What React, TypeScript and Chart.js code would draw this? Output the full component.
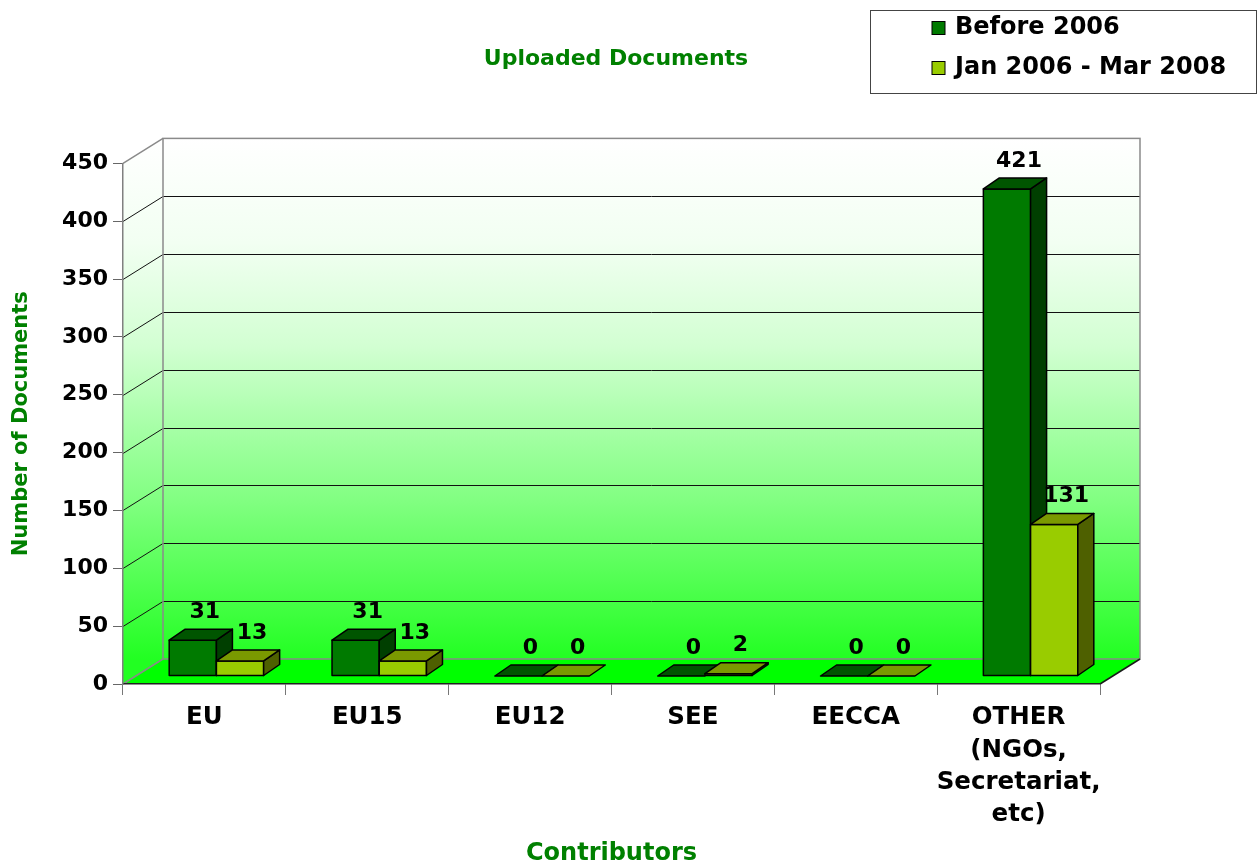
import React, { useEffect, useRef } from "react";
import { Chart, registerables } from "chart.js";

Chart.register(...registerables);

// ---------- data ----------
const categories: (string | string[])[] = [
  "EU",
  "EU15",
  "EU12",
  "SEE",
  "EECCA",
  ["OTHER", "(NGOs,", "Secretariat,", "etc)"],
];
const seriesNames = ["Before 2006", "Jan 2006 - Mar 2008"];
const before2006 = [31, 31, 0, 0, 0, 421];
const jan2006Mar2008 = [13, 13, 0, 2, 0, 131];
const yMin = 0;
const yMax = 450;
const yStep = 50;
const chartTitle = "Uploaded Documents";
const yTitle = "Number of Documents";
const xTitle = "Contributors";

// ---------- styles ----------
const FONT = "'DejaVu Sans', 'Liberation Sans', sans-serif";
const TITLE_GREEN = "#008000";
const WALL_DX = 40;
const WALL_DY = -25;
const SHIFT_X = 12;
const SHIFT_Y = -8;
const DEPTH_X = 16;
const DEPTH_Y = -11;
const faceColors = [
  { front: "#007a00", top: "#005500", side: "#003f00" },
  { front: "#99cc00", top: "#7a9900", side: "#4e6000" },
];

function poly(ctx: CanvasRenderingContext2D, pts: number[][]) {
  ctx.beginPath();
  ctx.moveTo(pts[0][0], pts[0][1]);
  for (let i = 1; i < pts.length; i++) ctx.lineTo(pts[i][0], pts[i][1]);
  ctx.closePath();
}

const wallPlugin = {
  id: "walls3d",
  beforeDraw(chart: any) {
    const { ctx, chartArea } = chart;
    const { left, right, top, bottom } = chartArea;
    const y = chart.scales.y;
    ctx.save();
    const g = ctx.createLinearGradient(0, top + WALL_DY, 0, bottom + WALL_DY);
    g.addColorStop(0, "#ffffff");
    g.addColorStop(0.2, "#f2fff2");
    g.addColorStop(0.4, "#d2ffd2");
    g.addColorStop(0.55, "#a8ffa8");
    g.addColorStop(0.7, "#80ff80");
    g.addColorStop(0.85, "#52ff52");
    g.addColorStop(1, "#22ff22");
    ctx.fillStyle = g;
    poly(ctx, [
      [left, top],
      [left + WALL_DX, top + WALL_DY],
      [left + WALL_DX, bottom + WALL_DY],
      [left, bottom],
    ]);
    ctx.fill();
    ctx.fillRect(left + WALL_DX, top + WALL_DY, right - left, bottom - top);
    ctx.fillStyle = "#00ff00";
    poly(ctx, [
      [left, bottom],
      [right, bottom],
      [right + WALL_DX, bottom + WALL_DY],
      [left + WALL_DX, bottom + WALL_DY],
    ]);
    ctx.fill();

    ctx.lineWidth = 1;
    ctx.strokeStyle = "#111111";
    y.ticks.forEach((t: any) => {
      if (t.value === yMin || t.value === yMax) return;
      const py = Math.round(y.getPixelForValue(t.value)) + 0.5;
      ctx.beginPath();
      ctx.moveTo(left + WALL_DX, py + WALL_DY);
      ctx.lineTo(right + WALL_DX, py + WALL_DY);
      ctx.moveTo(left, py);
      ctx.lineTo(left + WALL_DX, py + WALL_DY);
      ctx.stroke();
    });

    ctx.strokeStyle = "#8a8a8a";
    ctx.lineWidth = 1.5;
    ctx.strokeRect(left + WALL_DX, top + WALL_DY, right - left, bottom - top);
    ctx.beginPath();
    ctx.moveTo(left, top);
    ctx.lineTo(left + WALL_DX, top + WALL_DY);
    ctx.moveTo(left, bottom);
    ctx.lineTo(left + WALL_DX, bottom + WALL_DY);
    ctx.stroke();
    ctx.strokeStyle = "#1a1a1a";
    ctx.beginPath();
    ctx.moveTo(right, bottom);
    ctx.lineTo(right + WALL_DX, bottom + WALL_DY);
    ctx.stroke();
    ctx.restore();
  },
};

const bars3dPlugin = {
  id: "bars3d",
  beforeDatasetsDraw(chart: any) {
    const { ctx } = chart;
    ctx.save();
    ctx.lineWidth = 1.5;
    ctx.lineJoin = "round";
    ctx.strokeStyle = "#000000";
    const labelsToDraw: any[] = [];
    chart.data.datasets.forEach((ds: any, di: number) => {
      const meta = chart.getDatasetMeta(di);
      const c = faceColors[di];
      meta.data.forEach((el: any, i: number) => {
        const p = el.getProps(["x", "y", "base", "width"], true);
        const l = p.x - p.width / 2 + SHIFT_X;
        const r = p.x + p.width / 2 + SHIFT_X;
        const t = Math.min(p.y, p.base) + SHIFT_Y;
        const b = Math.max(p.y, p.base) + SHIFT_Y;
        if (b - t > 0.1) {
          ctx.fillStyle = c.front;
          ctx.fillRect(l, t, r - l, b - t);
          ctx.strokeRect(l, t, r - l, b - t);
          ctx.fillStyle = c.side;
          poly(ctx, [
            [r, t],
            [r + DEPTH_X, t + DEPTH_Y],
            [r + DEPTH_X, b + DEPTH_Y],
            [r, b],
          ]);
          ctx.fill();
          ctx.stroke();
        }
        ctx.fillStyle = c.top;
        poly(ctx, [
          [l, t],
          [l + DEPTH_X, t + DEPTH_Y],
          [r + DEPTH_X, t + DEPTH_Y],
          [r, t],
        ]);
        ctx.fill();
        ctx.stroke();
        labelsToDraw.push({
          text: String(ds.data[i]),
          x: (l + r) / 2 + 12,
          y: t + DEPTH_Y - 17,
        });
      });
    });
    ctx.fillStyle = "#000000";
    ctx.font = `bold 22px ${FONT}`;
    ctx.textAlign = "center";
    ctx.textBaseline = "middle";
    labelsToDraw.forEach((lb) => ctx.fillText(lb.text, lb.x, lb.y));
    ctx.restore();
    return false;
  },
};

const legendBoxPlugin = {
  id: "legendBox",
  afterDraw(chart: any) {
    const { ctx } = chart;
    ctx.save();
    ctx.strokeStyle = "#444444";
    ctx.lineWidth = 1;
    ctx.strokeRect(870.5, 10.5, 386, 83);
    ctx.font = `bold 24px ${FONT}`;
    ctx.textBaseline = "middle";
    ctx.textAlign = "left";
    const rows = [28, 68];
    chart.data.datasets.forEach((ds: any, i: number) => {
      const cy = rows[i];
      ctx.fillStyle = faceColors[i].front;
      ctx.fillRect(932, cy - 6.5, 13, 13);
      ctx.strokeStyle = "#000000";
      ctx.strokeRect(932, cy - 6.5, 13, 13);
      ctx.fillStyle = "#000000";
      ctx.fillText(ds.label, 955, cy);
    });
    ctx.restore();
  },
};

export default function App() {
  const ref = useRef<HTMLCanvasElement | null>(null);
  useEffect(() => {
    if (!ref.current) return;
    const chart = new Chart(ref.current, {
      type: "bar",
      data: {
        labels: categories as any,
        datasets: [
          {
            label: seriesNames[0],
            data: before2006,
            backgroundColor: faceColors[0].front,
            borderColor: "#000000",
            borderWidth: 1,
          },
          {
            label: seriesNames[1],
            data: jan2006Mar2008,
            backgroundColor: faceColors[1].front,
            borderColor: "#000000",
            borderWidth: 1,
          },
        ],
      },
      options: {
        responsive: false,
        maintainAspectRatio: false,
        animation: false,
        layout: { padding: { left: 0, right: 26, top: 0, bottom: 0 } },
        datasets: { bar: { categoryPercentage: 0.58, barPercentage: 1.0 } },
        plugins: {
          legend: { display: false },
          tooltip: { enabled: false },
          title: {
            display: true,
            text: chartTitle,
            color: TITLE_GREEN,
            font: { family: FONT, size: 22, weight: "bold" },
            padding: { top: 46, bottom: 91 },
          },
        },
        scales: {
          x: {
            type: "category",
            grid: {
              display: true,
              drawOnChartArea: false,
              drawTicks: true,
              tickLength: 11,
              color: "#777777",
              offset: true,
            },
            border: { display: true, color: "#222222", width: 1.5 },
            ticks: {
              color: "#000000",
              padding: 7,
              maxRotation: 0,
              autoSkip: false,
              font: { family: FONT, size: 24.5, weight: "bold", lineHeight: 1.31 },
            },
            title: {
              display: true,
              text: xTitle,
              color: TITLE_GREEN,
              font: { family: FONT, size: 24, weight: "bold", lineHeight: 0.8 },
              padding: { top: 0, bottom: 0 },
            },
            afterFit: (s: any) => {
              s.height = 179;
            },
          },
          y: {
            type: "linear",
            position: "left",
            min: yMin,
            max: yMax,
            grid: {
              display: true,
              drawOnChartArea: false,
              drawTicks: true,
              tickLength: 10,
              color: "#666666",
            },
            border: { display: true, color: "#808080", width: 1.5 },
            ticks: {
              stepSize: yStep,
              color: "#000000",
              padding: 5,
              font: { family: FONT, size: 22, weight: "bold" },
            },
            title: {
              display: true,
              text: yTitle,
              color: TITLE_GREEN,
              font: { family: FONT, size: 21, weight: "bold" },
              padding: { top: 9, bottom: 0 },
            },
            afterFit: (s: any) => {
              s.width = 123;
            },
          },
          y2: {
            type: "linear",
            position: "right",
            display: true,
            grid: { display: false, drawTicks: false },
            border: { display: false },
            ticks: { display: false },
            afterFit: (s: any) => {
              s.width = 132;
            },
          },
        },
      },
      plugins: [wallPlugin, bars3dPlugin, legendBoxPlugin],
    } as any);
    return () => chart.destroy();
  }, []);
  return (
    <div style={{ position: "fixed", left: 0, top: 0, width: 1258, height: 863, background: "#ffffff" }}>
      <canvas ref={ref} width={1258} height={863} style={{ display: "block" }} />
    </div>
  );
}
